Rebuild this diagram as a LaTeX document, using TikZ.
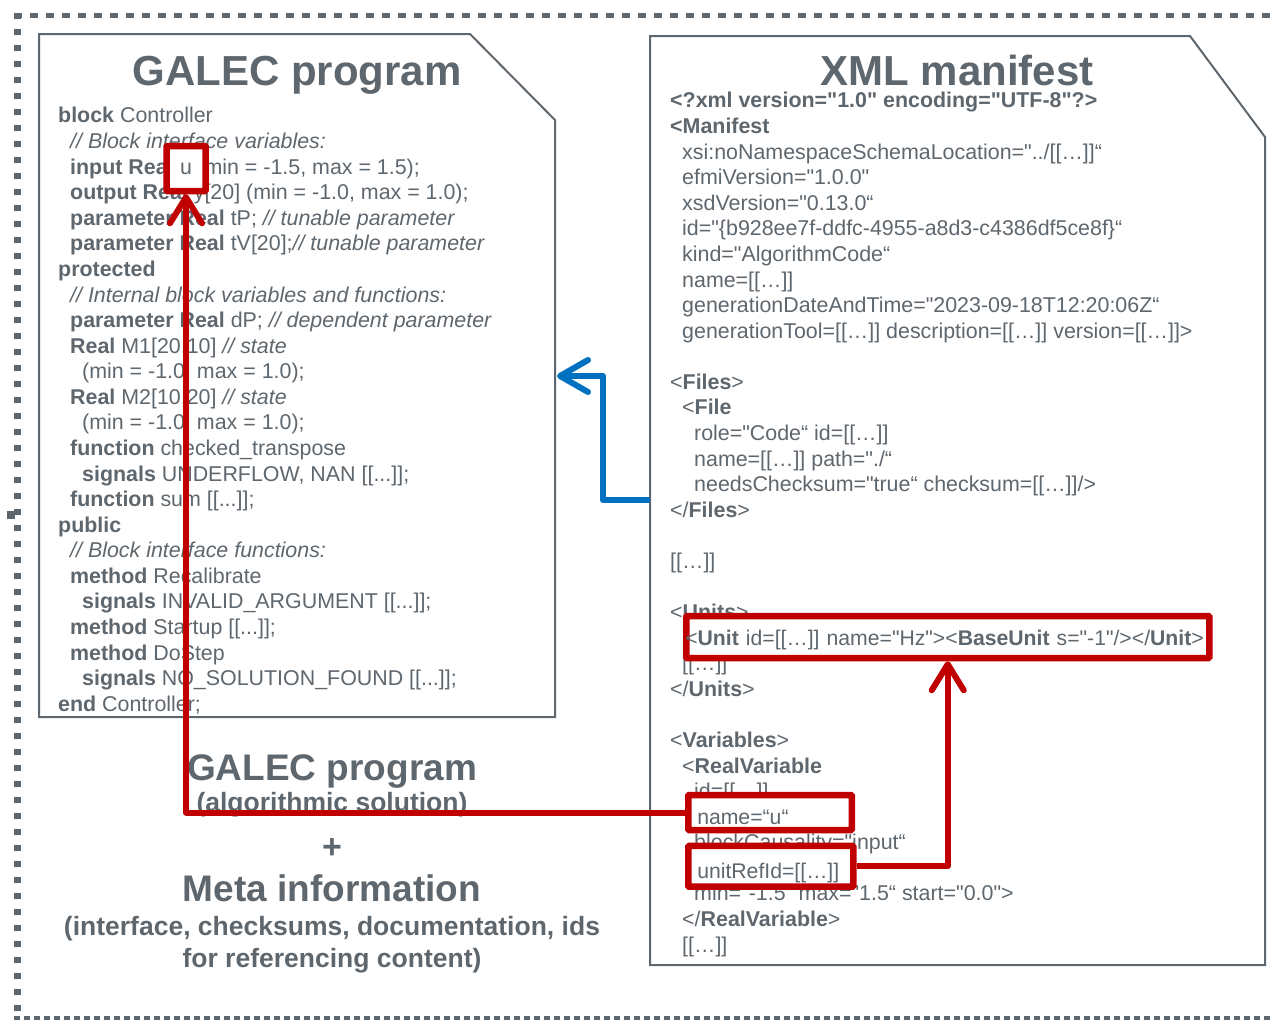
\documentclass[tikz,border=0pt]{standalone}
\usepackage{fontspec}
\setmainfont{Liberation Sans}[Ligatures=TeXOff]
\usetikzlibrary{arrows.meta}

\definecolor{ink}{RGB}{95,103,110}
\definecolor{hired}{RGB}{192,0,0}
\definecolor{linkblue}{RGB}{0,112,192}

\tikzset{
  doc/.style={draw=ink, line width=2pt, fill=white, line join=miter},
  codetext/.style={anchor=base west, align=left, inner sep=0pt, text=ink,
    font=\fontsize{21.4pt}{25.58pt}\selectfont},
  bigtitle/.style={anchor=base, inner sep=0pt, text=ink,
    font=\fontsize{42pt}{48pt}\selectfont\bfseries},
  midtitle/.style={anchor=base, inner sep=0pt, text=ink,
    font=\fontsize{37pt}{42pt}\selectfont\bfseries},
  subtitle/.style={anchor=base, inner sep=0pt, text=ink,
    font=\fontsize{26.5pt}{31pt}\selectfont\bfseries},
  markbox/.style={draw=hired, line width=6.5pt, fill=white, rounded corners=1pt,
    inner ysep=0pt, text=ink, align=left, anchor=base west,
    font=\fontsize{21.2pt}{25.58pt}\selectfont},
  reflink/.style={draw=hired, line width=6pt, line join=round,
    -{Straight Barb[length=26pt,width=32pt,line cap=round,line join=round]}},
  filelink/.style={draw=linkblue, line width=6pt, line join=round,
    -{Straight Barb[length=28pt,width=32pt,line cap=round,line join=round]}},
}

\begin{document}
\begin{tikzpicture}[x=1pt, y=-1pt]
\useasboundingbox (0,0) rectangle (1273,1020);

% dotted frame around the whole figure
\draw[ink, line width=5pt, dash pattern=on 8pt off 8pt] (14,15) -- (1290,15);
\draw[ink, line width=7pt, dash pattern=on 6pt off 10pt] (17,13) -- (17,1012);
\draw[ink, line width=4pt, dash pattern=on 6pt off 4pt] (14,1018) -- (1290,1018);
\fill[ink] (7,511) rectangle (15,519);

% document shapes with a folded corner
\draw[doc] (39,34) -- (470,34) -- (555,120) -- (555,717) -- (39,717) -- cycle;
\draw[doc] (650,36) -- (1190,36) -- (1265,137) -- (1265,965) -- (650,965) -- cycle;

% titles
\node[bigtitle] (galtitle) at (297,85) {GALEC program};
\node[bigtitle] (xmltitle) at (957,85.5) {XML manifest};

% GALEC source code (anchored at the baseline of its last line)
\node[codetext] (galcode) at (58,711.3) {%
\textbf{block} Controller\\
\hspace*{12pt}\textit{// Block interface variables:}\\
\hspace*{12pt}\textbf{input Real} \phantom{u} (min = -1.5, max = 1.5);\\
\hspace*{12pt}\textbf{output Real} y[20] (min = -1.0, max = 1.0);\\
\hspace*{12pt}\textbf{parameter Real} tP; \textit{// tunable parameter}\\
\hspace*{12pt}\textbf{parameter Real} tV[20];\textit{// tunable parameter}\\
\textbf{protected}\\
\hspace*{12pt}\textit{// Internal block variables and functions:}\\
\hspace*{12pt}\textbf{parameter Real} dP; \textit{// dependent parameter}\\
\hspace*{12pt}\textbf{Real} M1[20,10] \textit{// state}\\
\hspace*{24pt}(min = -1.0, max = 1.0);\\
\hspace*{12pt}\textbf{Real} M2[10,20] \textit{// state}\\
\hspace*{24pt}(min = -1.0, max = 1.0);\\
\hspace*{12pt}\textbf{function} checked\_transpose\\
\hspace*{24pt}\textbf{signals} UNDERFLOW, NAN [[...]];\\
\hspace*{12pt}\textbf{function} sum [[...]];\\
\textbf{public}\\
\hspace*{12pt}\textit{// Block interface functions:}\\
\hspace*{12pt}\textbf{method} Recalibrate\\
\hspace*{24pt}\textbf{signals} INVALID\_ARGUMENT [[...]];\\
\hspace*{12pt}\textbf{method} Startup [[...]];\\
\hspace*{12pt}\textbf{method} DoStep\\
\hspace*{24pt}\textbf{signals} NO\_SOLUTION\_FOUND [[...]];\\
\textbf{end} Controller;};

% XML manifest listing (anchored at the baseline of its last line)
\node[codetext] (xmlcode) at (670,952.1) {%
\textbf{<?xml version="1.0" encoding="UTF-8"?>}\\
\textbf{<Manifest}\\
\hspace*{12pt}xsi:noNamespaceSchemaLocation="../[[…]]“\\
\hspace*{12pt}efmiVersion="1.0.0"\\
\hspace*{12pt}xsdVersion="0.13.0“\\
\hspace*{12pt}id="\{b928ee7f-ddfc-4955-a8d3-c4386df5ce8f\}“\\
\hspace*{12pt}kind="AlgorithmCode“\\
\hspace*{12pt}name=[[…]]\\
\hspace*{12pt}generationDateAndTime="2023-09-18T12:20:06Z“\\
\hspace*{12pt}generationTool=[[…]] description=[[…]] version=[[…]]>\\
\mbox{}\\
<\textbf{Files}>\\
\hspace*{12pt}<\textbf{File}\\
\hspace*{24pt}role="Code“ id=[[…]]\\
\hspace*{24pt}name=[[…]] path="./“\\
\hspace*{24pt}needsChecksum="true“ checksum=[[…]]/>\\
</\textbf{Files}>\\
\mbox{}\\
{}[[…]]\\
\mbox{}\\
<\textbf{Units}>\\
\mbox{}\\
\hspace*{12pt}[[…]]\\
</\textbf{Units}>\\
\mbox{}\\
<\textbf{Variables}>\\
\hspace*{12pt}<\textbf{RealVariable}\\
\hspace*{24pt}id=[[…]]\\
\mbox{}\\
\hspace*{24pt}blockCausality="input“\\
\mbox{}\\
\hspace*{24pt}min="-1.5“ max="1.5“ start="0.0">\\
\hspace*{12pt}</\textbf{RealVariable}>\\
\hspace*{12pt}[[…]]};

% summary below the GALEC program
\node[midtitle] (galsum) at (332,780) {GALEC program};
\node[subtitle] (galsub) at (332,811) {(algorithmic solution)};
\node[anchor=base, inner sep=0pt, text=ink, font=\fontsize{34pt}{40pt}\selectfont\bfseries] (plus) at (332,858) {+};
\node[midtitle] (meta) at (332,901) {Meta information};
\node[subtitle] (metasub1) at (332,935) {(interface, checksums, documentation, ids};
\node[subtitle] (metasub2) at (332,967) {for referencing content)};

% highlighted entries
\node[draw=hired, line width=6.5pt, fill=white, rounded corners=1pt, inner sep=0pt,
      minimum width=39pt, minimum height=45pt, text=ink,
      font=\fontsize{21.4pt}{25.58pt}\selectfont] (ubox) at (186,168.5) {u};
\node[markbox, inner xsep=-1pt, text width=525pt, text height=20.4pt, text depth=4pt,
      minimum height=42pt] (unit) at (683,645.2)
      {<\textbf{Unit} id=[[…]] name="Hz"><\textbf{BaseUnit} s="-1"/></\textbf{Unit}>};
\node[markbox, inner xsep=9pt, text width=145.5pt, text height=27.4pt, text depth=4pt,
      minimum height=35pt] (uname) at (685,824.2) {name=“u“};
\node[markbox, inner xsep=9pt, text width=147pt, text height=27.4pt, text depth=4pt,
      minimum height=40.7pt] (uref) at (685,878) {unitRefId=[[…]]};

% references between the two files
\draw[reflink] (uname.west) -| (ubox.south);
\draw[reflink] (uref.east) -| (unit.south);

\coordinate (xmlside) at (650,500);
\coordinate (galside) at (557,376);
\draw[filelink] (xmlside) -- ++(-47,0) |- (galside);
\end{tikzpicture}
\end{document}
